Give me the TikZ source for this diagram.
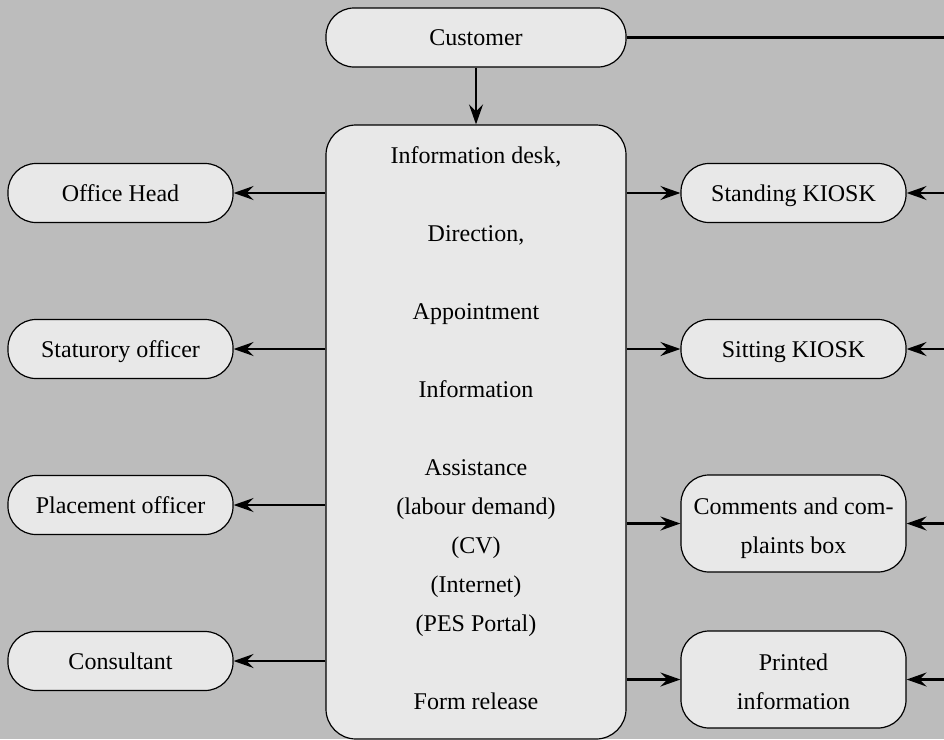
\documentclass[tikz,border=0pt]{standalone}
\usepackage{fontspec}
\setmainfont{Liberation Serif}
\usepackage{xcolor}
\usetikzlibrary{arrows.meta,positioning}

\definecolor{bggray}{RGB}{188,188,188}
\definecolor{boxgray}{RGB}{232,232,232}

\begin{document}
\begin{tikzpicture}[x=1pt,y=-1pt,
  pill/.style={draw=black,line width=1.2pt,fill=boxgray,rounded corners=28pt,
    minimum width=225pt,minimum height=59pt,inner sep=0pt,align=center,
    text height=16pt,text depth=0pt,font=\fontsize{24}{39}\selectfont},
  twoline/.style={minimum height=97pt,text height=59pt,text depth=0pt},
  link/.style={line width=2.2pt,-{Stealth[length=20pt,width=14pt,inset=7pt]}}]
  \fill[bggray] (0,0) rectangle (944,739);
  \useasboundingbox (0,0) rectangle (944,739);
  % top and centre
  \node[pill,minimum width=300pt] (customer) at (476,37.5) {Customer};
  \node[pill,text height=,text depth=8pt,minimum width=300pt,minimum height=614pt,rounded corners=30pt] (desk) at (476,432)
    {Information desk,\\[39pt] Direction,\\[39pt] Appointment\\[39pt] Information\\[39pt]
     Assistance\\ (labour demand)\\ (CV)\\ (Internet)\\ (PES Portal)\\[39pt] Form release};
  % left column
  \node[pill] (head) at (120.5,193) {Office Head};
  \node[pill] (statutory) at (120.5,349) {Staturory officer};
  \node[pill] (placement) at (120.5,505) {Placement officer};
  \node[pill] (consultant) at (120.5,661) {Consultant};
  % right column
  \node[pill] (standing) at (793.5,193) {Standing KIOSK};
  \node[pill] (sitting) at (793.5,349) {Sitting KIOSK};
  \node[pill,twoline] (comments) at (793.5,523.5) {Comments and com-\\plaints box};
  \node[pill,twoline] (printed) at (793.5,679.5) {Printed\\information};
  \coordinate (edge) at (944,37.5);
  % connectors
  \draw[link] (customer.south) -- (desk.north);
  \draw[line width=2.2pt] (customer.east) -- (edge);
  \foreach \n in {head,statutory,placement,consultant}
    \draw[link] (desk.west |- \n.east) -- (\n.east);
  \foreach \n in {standing,sitting,comments,printed}{
    \draw[link] (desk.east |- \n.west) -- (\n.west);
    \draw[link] (edge |- \n.east) -- (\n.east);
  }
\end{tikzpicture}
\end{document}
